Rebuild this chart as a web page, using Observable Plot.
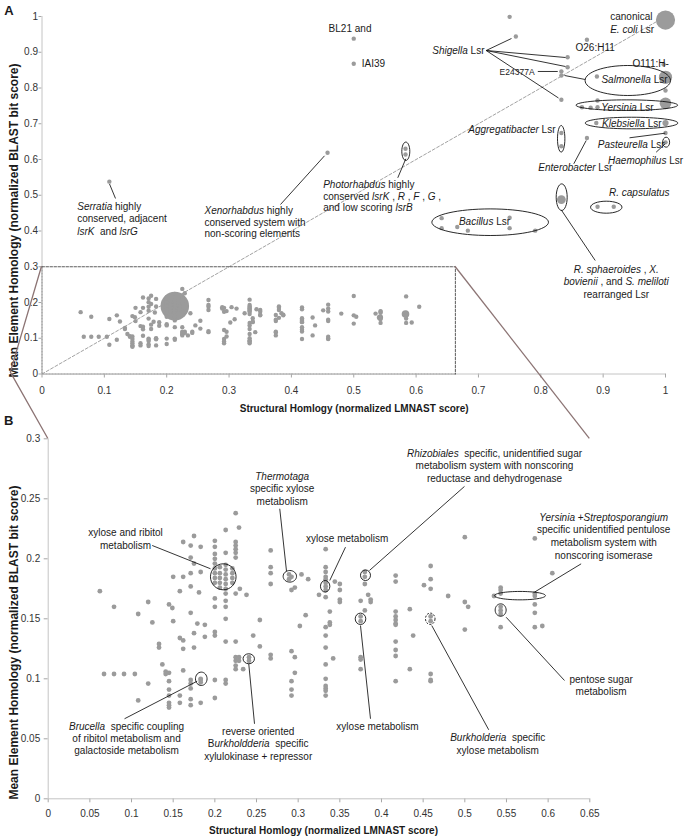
<!DOCTYPE html>
<html><head><meta charset="utf-8">
<script src="https://cdn.jsdelivr.net/npm/d3@7"></script>
<script src="https://cdn.jsdelivr.net/npm/@observablehq/plot@0.6"></script>
<style>
body{margin:0;background:#fff;}
#wrap{position:relative;width:688px;height:840px;overflow:hidden;font-family:'Liberation Sans',Arial,sans-serif;}
#wrap > svg{position:absolute;left:0;}
[aria-label$="tick"] path,[aria-label$="tick"] line,.tick line{stroke:#a6a6a6;}
</style></head><body><div id="wrap"></div>
<script>
// ---------------- DATA ----------------
// low-scoring systems (panel B, also shown in panel A): [x, [y values]]
const lowColumns = [
  [0.062,[0.173]],[0.067,[0.104]],[0.079,[0.160,0.104]],[0.091,[0.104]],[0.104,[0.104]],
  [0.108,[0.154,0.082]],[0.120,[0.164,0.096]],[0.125,[0.147]],[0.133,[0.129,0.126]],
  [0.137,[0.112]],[0.141,[0.106,0.104]],
  [0.145,[0.162,0.105,0.098,0.091,0.086,0.080,0.078,0.076]],[0.149,[0.159]],
  [0.150,[0.185,0.148]],[0.158,[0.173,0.134,0.086,0.080]],
  [0.162,[0.214,0.185,0.132,0.125,0.107]],
  [0.171,[0.211,0.201,0.188,0.177,0.155,0.099,0.096,0.092,0.083,0.078]],
  [0.175,[0.219,0.196,0.138,0.126]],[0.179,[0.146]],[0.181,[0.172]],
  [0.183,[0.210,0.189,0.100,0.099,0.097,0.080]],[0.188,[0.145,0.135]],
  [0.200,[0.215,0.210,0.204,0.200,0.196,0.192,0.188,0.184,0.180,0.167,0.160,0.139,0.136,0.099,0.084]],
  [0.206,[0.193,0.188,0.184,0.180,0.176]],
  [0.213,[0.224,0.205,0.195,0.191,0.187,0.183,0.179,0.175,0.171,0.165,0.160,0.150,0.131,0.099,0.096]],
  [0.221,[0.192,0.188,0.184,0.180]],
  [0.225,[0.238,0.214,0.211,0.208,0.205,0.201,0.171,0.131,0.118,0.115,0.111,0.108]],
  [0.229,[0.226,0.118,0.115]],[0.230,[0.175]],[0.234,[0.108]],[0.238,[0.170]],
  [0.241,[0.118,0.115]],[0.246,[0.136]],[0.254,[0.149,0.127]],
  [0.267,[0.207,0.193,0.188,0.179,0.120,0.117]],
  [0.289,[0.187,0.183]],[0.292,[0.185,0.174,0.123,0.098,0.091,0.086]],
  [0.296,[0.176,0.118,0.105]],[0.302,[0.144]],[0.304,[0.187]],[0.309,[0.153]],
  [0.312,[0.183]],[0.325,[0.170]],
  [0.333,[0.208,0.193,0.189,0.185,0.183,0.180,0.177,0.174,0.168,0.143,0.136,0.126,0.112,0.100,0.094,0.092,0.090,0.086]],
  [0.338,[0.156,0.147,0.145]],[0.342,[0.117]],[0.344,[0.181]],
  [0.350,[0.179,0.174,0.166,0.164]],
  [0.375,[0.165,0.152,0.148,0.118,0.116,0.108]],
  [0.380,[0.189,0.185,0.179,0.157]],[0.384,[0.170]],[0.387,[0.166,0.164]],
  [0.417,[0.186,0.181,0.156,0.152,0.149,0.146,0.145,0.131,0.124,0.119,0.098]],
  [0.434,[0.158,0.108]],[0.438,[0.136]],[0.451,[0.178]],
  [0.459,[0.194,0.183,0.175,0.152,0.148,0.104,0.099,0.098]],
  [0.480,[0.169]],[0.500,[0.218,0.164,0.141]],[0.504,[0.160]],[0.535,[0.169]],
  [0.543,[0.176,0.174,0.171,0.160,0.157,0.154,0.143]],
  [0.584,[0.217,0.171,0.169,0.162,0.155,0.143]],[0.593,[0.144]],[0.605,[0.188]]
];
// high-scoring systems (panel A only): [x, y, number of systems]
const highPoints = [
  [0.108,0.538,1],[0.458,0.619,1],[0.583,0.630,1],[0.583,0.614,1],
  [0.500,0.938,1],[0.500,0.868,1],[0.750,0.999,1],[0.760,0.944,1],[0.874,0.935,1],
  [0.843,0.886,1],[0.843,0.858,1],[0.833,0.846,1],[0.833,0.835,1],[0.833,0.767,1],
  [0.890,0.832,1],[0.997,0.866,1],[1.000,0.830,9],[1.000,0.793,1],[1.000,0.757,7],
  [0.866,0.746,1],[0.880,0.745,1],[0.891,0.765,1],[0.891,0.746,1],
  [0.889,0.702,1],[1.000,0.702,2],[1.000,0.674,1],[1.000,0.648,1],
  [0.833,0.674,1],[0.833,0.637,1],[0.874,0.660,1],
  [0.833,0.488,4],[0.891,0.468,1],[0.917,0.468,1],
  [0.641,0.436,1],[0.641,0.408,1],[0.666,0.411,1],[0.683,0.401,1],
  [0.750,0.437,1],[0.750,0.408,1],[0.791,0.401,1],
  [1.000,0.990,19]
];
// overlapping groups drawn as bubbles in panel A: [x, y, number of systems]
const bubblesA = [[0.213,0.190,42],[0.583,0.168,3],[0.542,0.158,2]];

const ticksAX = [0,0.1,0.2,0.3,0.4,0.5,0.6,0.7,0.8,0.9,1];
const ticksAY = [0,0.1,0.2,0.3,0.4,0.5,0.6,0.7,0.8,0.9,1];
const ticksBX = [0,0.05,0.1,0.15,0.2,0.25,0.3,0.35,0.4,0.45,0.5,0.55,0.6,0.65];
const ticksBY = [0,0.05,0.1,0.15,0.2,0.25,0.3];

const yTitle = "Mean Element Homology (normalized BLAST bit score)";
const xTitle = "Structural Homlogy (normalized LMNAST score)";

// ---------------- ANNOTATIONS (layout) ----------------
const labelsA = [
  {t:"BL21 and", x:.4597, y:.9683, a:"start"},
  {t:"IAI39", x:.5129, y:.8685, a:"start"},
  {t:"*Shigella* Lsr", x:.7097, y:.9069, a:"end"},
  {t:"O26:H11", x:.8557, y:.9141, a:"start"},
  {t:"canonical\n*E. coli* Lsr", x:.9113, y:.984, a:"start", lh:1.3},
  {t:"O111:H-", x:.9471, y:.8705, a:"start"},
  {t:"E24377A", x:.790, y:.8462, a:"end", fs:8.5},
  {t:"*Salmonella* Lsr", x:.9503, y:.8238},
  {t:"*Yersinia* Lsr", x:.939, y:.7463},
  {t:"*Klebsiella* Lsr", x:.946, y:.7015},
  {t:"*Pasteurella* Lsr", x:.945, y:.642},
  {t:"*Haemophilus* Lsr", x:.968, y:.599},
  {t:"*Aggregatibacter* Lsr", x:.8236, y:.6859, a:"end"},
  {t:"*Enterobacter* Lsr", x:.8553, y:.5785},
  {t:"*Photorhabdus* highly\nconserved *lsrK* , *R* , *F* , *G* ,\nand low scoring *lsrB*", x:.451, y:.498, a:"start", lh:1.15},
  {t:"*Serratia* highly\nconserved, adjacent\n*lsrK*  and *lsrG*", x:.0565, y:.435, a:"start", lh:1.25},
  {t:"*Xenorhabdus* highly\nconserved system with\nnon-scoring elements", x:.2606, y:.4252, a:"start", lh:1.12},
  {t:"*Bacillus* Lsr", x:.7097, y:.4274},
  {t:"*R. sphaeroides* , *X.*\n*bovienii* , and *S. meliloti*\nrearranged Lsr", x:.921, y:.2593, lh:1.25},
  {t:"*R. capsulatus*", x:.958, y:.5085},
  {t:yTitle, x:-.0457, y:.4294, rot:-90, fs:12, fw:"bold"},
  {t:xTitle, x:.5007, y:-.0945, fw:"bold"},
  {t:"A", x:-.0532, y:1.0187, fs:13, fw:"bold"}
];
const linesA = [
  [.1083,.5315,.1179,.491],[.4531,.6103,.3825,.4741],[.5835,.602,.5706,.5488],
  [.7124,.9049,.753,.9385],[.7124,.9049,.8396,.8853],[.7124,.9049,.8396,.8601],[.7124,.9049,.8284,.772],
  [.7952,.8462,.8272,.8462],[.838,.835,.8712,.8238],[.9423,.6607,.9995,.6736],
  [.985,.6204,.9995,.6439],[.8529,.588,.8728,.6531],[.8327,.4593,.8873,.3175]
];
const ringsA = [
  {x:.9395,y:.821,rx:42.7,ry:15},{x:.938,y:.752,rx:50.8,ry:5.3},{x:.9455,y:.702,rx:46.3,ry:5.8},
  {x:1.001,y:.6484,rx:3.5,ry:5},{x:.8327,y:.6579,rx:3.7,ry:13.3},{x:.5835,y:.623,rx:4,ry:9.2},
  {x:.8335,y:.4946,rx:5.5,ry:13.3},{x:.905,y:.4666,rx:15.7,ry:6},{x:.7188,y:.4246,rx:58.3,ry:13.3}
];
const zoomBox = {x1:0, x2:0.663, y1:0, y2:0.3};
const connectorKink = [-0.05, 0.004];

const labelsB = [
  {t:"*Thermotaga*\nspecific xylose\nmetabolism", x:.2808, y:.2588, lh:1.25},
  {t:"xylose and ribitol\nmetabolism", x:.0928, y:.2167, lh:1.3},
  {t:"xylose metabolism", x:.3588, y:.2175},
  {t:"*Rhizobiales*  specific, unidentified sugar\nmetabolism system with nonscoring\nreductase and dehydrogenase", x:.5356, y:.2778, lh:1.25},
  {t:"*Yersinia* +*Streptosporangium*\nspecific unidentified pentulose\nmetabolism system with\nnonscoring isomerase", x:.6667, y:.2194, lh:1.27},
  {t:"pentose sugar\nmetabolism", x:.6636, y:.0946, lh:1.2},
  {t:"*Burkholderia*  specific\nxylose metabolism", x:.5395, y:.0462, lh:1.25},
  {t:"xylose metabolism", x:.3952, y:.0605},
  {t:"*Brucella*  specific coupling\nof ribitol metabolism and\ngalactoside metabolism", x:.094, y:.0507, lh:1.18},
  {t:"reverse oriented\nB*urkholdderia*  specific\nxylulokinase + repressor", x:.252, y:.0465, lh:1.25},
  {t:yTitle, x:-.0416, y:.1302, rot:-90, fs:12, fw:"bold"},
  {t:xTitle, x:.3304, y:-.0264, fw:"bold"},
  {t:"B", x:-.0473, y:.3153, fs:13, fw:"bold"}
];
const linesB = [
  [.2779,.2417,.286,.1897],[.1248,.2111,.1948,.1917],[.3568,.2097,.3379,.1819],
  [.4996,.2603,.3856,.1903],[.6396,.1958,.5836,.1722],[.5496,.1513,.6196,.0986],
  [.4603,.1444,.5287,.0575],[.3748,.1444,.3868,.0667],[.1788,.098,.0916,.0667],
  [.2407,.1125,.2476,.0625]
];
const ringsB = [
  {x:.2101,y:.185,rx:12.8,ry:13},{x:.29,y:.1854,rx:6.7,ry:5.8},{x:.3324,y:.1771,rx:4.7,ry:5.8},
  {x:.3808,y:.1863,rx:5,ry:5.3},{x:.5662,y:.1693,rx:25.5,ry:4.2},{x:.543,y:.1573,rx:5.5,ry:6.2},
  {x:.4585,y:.15,rx:4.8,ry:5.7,dash:"2,1.5"},{x:.3748,y:.15,rx:5.3,ry:5.7},
  {x:.1837,y:.1,rx:5.8,ry:6.7},{x:.2407,y:.1167,rx:5.7,ry:5}
];

// ---------------- BUILD ----------------
const dotColor = "#9b9b9b";
const lowTable = lowColumns.flatMap(([x, ys]) => ys.map(y => ({x, y, n: 1})));
const tableA = lowTable
  .concat(highPoints.map(([x, y, n]) => ({x, y, n})))
  .concat(bubblesA.map(([x, y, n]) => ({x, y, n})));

function ellipseSymbol(rx, ry) {
  const k = 0.5523;
  return {draw(ctx) {
    ctx.moveTo(rx, 0);
    ctx.bezierCurveTo(rx, k*ry, k*rx, ry, 0, ry);
    ctx.bezierCurveTo(-k*rx, ry, -rx, k*ry, -rx, 0);
    ctx.bezierCurveTo(-rx, -k*ry, -k*rx, -ry, 0, -ry);
    ctx.bezierCurveTo(k*rx, -ry, rx, -k*ry, rx, 0);
    ctx.closePath();
  }};
}
const textMarks = labels => labels.map(d => Plot.text([d], {
  x: "x", y: "y", text: "t", textAnchor: d.a || "middle", lineAnchor: "middle",
  lineHeight: d.lh || 1.2, fontSize: d.fs || 10, fontWeight: d.fw || "normal",
  rotate: d.rot || 0, fill: "#1a1a1a"
}));
const ringMarks = rings => rings.map(d => Plot.dot([d], {
  x: "x", y: "y", r: 3, symbol: ellipseSymbol(d.rx, d.ry),
  fill: "none", stroke: "#111", strokeWidth: 0.9, strokeDasharray: d.dash || null
}));
const linkMark = lines => Plot.link(lines, {
  x1: d => d[0], y1: d => d[1], x2: d => d[2], y2: d => d[3], stroke: "#111", strokeWidth: 0.85
});
const fmt = d => String(+d.toFixed(2));
const baseStyle = {background: "transparent", fontFamily: "'Liberation Sans', Arial, sans-serif",
  fontSize: "10px", color: "#333", overflow: "visible"};

const chartA = Plot.plot({
  width: 688, height: 412,
  marginLeft: 41.5, marginRight: 23, marginTop: 16, marginBottom: 38.5,
  style: baseStyle,
  x: {domain: [0, 1], ticks: ticksAX, tickFormat: fmt, tickSize: 4, tickPadding: 9, label: null},
  y: {domain: [0, 1], ticks: ticksAY, tickFormat: fmt, tickSize: 3, tickPadding: 1, label: null},
  r: {type: "sqrt", domain: [0, 1], range: [0, 2.2]},
  marks: [
    Plot.ruleX([0], {stroke: "#c4c4c4"}),
    Plot.ruleY([0], {stroke: "#c4c4c4"}),
    Plot.line([[0, 0], [1, 1]], {stroke: "#8a8a8a", strokeWidth: 0.8, strokeDasharray: "3,2"}),
    Plot.line([[zoomBox.x1, zoomBox.y2], [zoomBox.x1, zoomBox.y1], [zoomBox.x2, zoomBox.y1]],
      {stroke: "#9a9a9a", strokeWidth: 1.2, strokeDasharray: "1.5,1.5"}),
    Plot.line([[zoomBox.x1, zoomBox.y2], [zoomBox.x2, zoomBox.y2], [zoomBox.x2, zoomBox.y1]],
      {stroke: "#333", strokeWidth: 0.8, strokeDasharray: "2.5,1.5"}),
    Plot.dot(tableA, {x: "x", y: "y", r: "n", fill: dotColor}),
    linkMark(linesA),
    ...ringMarks(ringsA),
    ...textMarks(labelsA)
  ]
});

const chartB = Plot.plot({
  width: 688, height: 428,
  marginLeft: 47.7, marginRight: 98.7, marginTop: 26.3, marginBottom: 41.7,
  style: baseStyle,
  x: {domain: [0, 0.65], ticks: ticksBX, tickFormat: fmt, tickSize: 4, tickPadding: 7, label: null},
  y: {domain: [0, 0.3], ticks: ticksBY, tickFormat: fmt, tickSize: 4, tickPadding: 4, label: null},
  marks: [
    Plot.ruleX([0], {stroke: "#c4c4c4"}),
    Plot.ruleY([0], {stroke: "#c4c4c4"}),
    Plot.dot(lowTable, {x: "x", y: "y", r: 2.4, fill: dotColor}),
    linkMark(linesB),
    ...ringMarks(ringsB),
    ...textMarks(labelsB)
  ]
});

// italic markup: *text* -> italic tspan
function applyItalics(svg) {
  const ns = "http://www.w3.org/2000/svg";
  svg.querySelectorAll("text, tspan").forEach(el => {
    if (el.childNodes.length === 1 && el.firstChild.nodeType === 3 && el.textContent.includes("*")) {
      const parts = el.textContent.split("*");
      el.textContent = "";
      parts.forEach((p, i) => {
        if (!p) return;
        const t = document.createElementNS(ns, "tspan");
        if (i % 2) t.setAttribute("font-style", "italic");
        t.textContent = p;
        el.appendChild(t);
      });
    }
  });
}
applyItalics(chartA);
applyItalics(chartB);

const wrap = document.getElementById("wrap");
const offB = 412;
chartA.style.top = "0px";
chartB.style.top = offB + "px";
wrap.appendChild(chartA);
wrap.appendChild(chartB);

// connector lines between the zoom box in A and panel B
const lin = s => d3.scaleLinear(s.domain, s.range);
const ax = lin(chartA.scale("x")), ay = lin(chartA.scale("y"));
const bx = lin(chartB.scale("x")), by = lin(chartB.scale("y"));
const bTop = chartB.scale("y").domain[1], bRight = chartB.scale("x").domain[1];
const ov = d3.create("svg").attr("width", 688).attr("height", 840)
  .style("position", "absolute").style("left", "0px").style("top", "0px").style("pointer-events", "none");
const conn = [
  [[ax(zoomBox.x1), ay(zoomBox.y2)], [ax(connectorKink[0]), ay(connectorKink[1])], [bx(0), by(bTop) + offB]],
  [[ax(zoomBox.x2), ay(zoomBox.y2)], [bx(bRight), by(bTop) + offB]]
];
ov.selectAll("path").data(conn).join("path")
  .attr("d", d3.line()).attr("fill", "none").attr("stroke", "#8c7474").attr("stroke-width", 1.3);
wrap.appendChild(ov.node());
</script></body></html>
